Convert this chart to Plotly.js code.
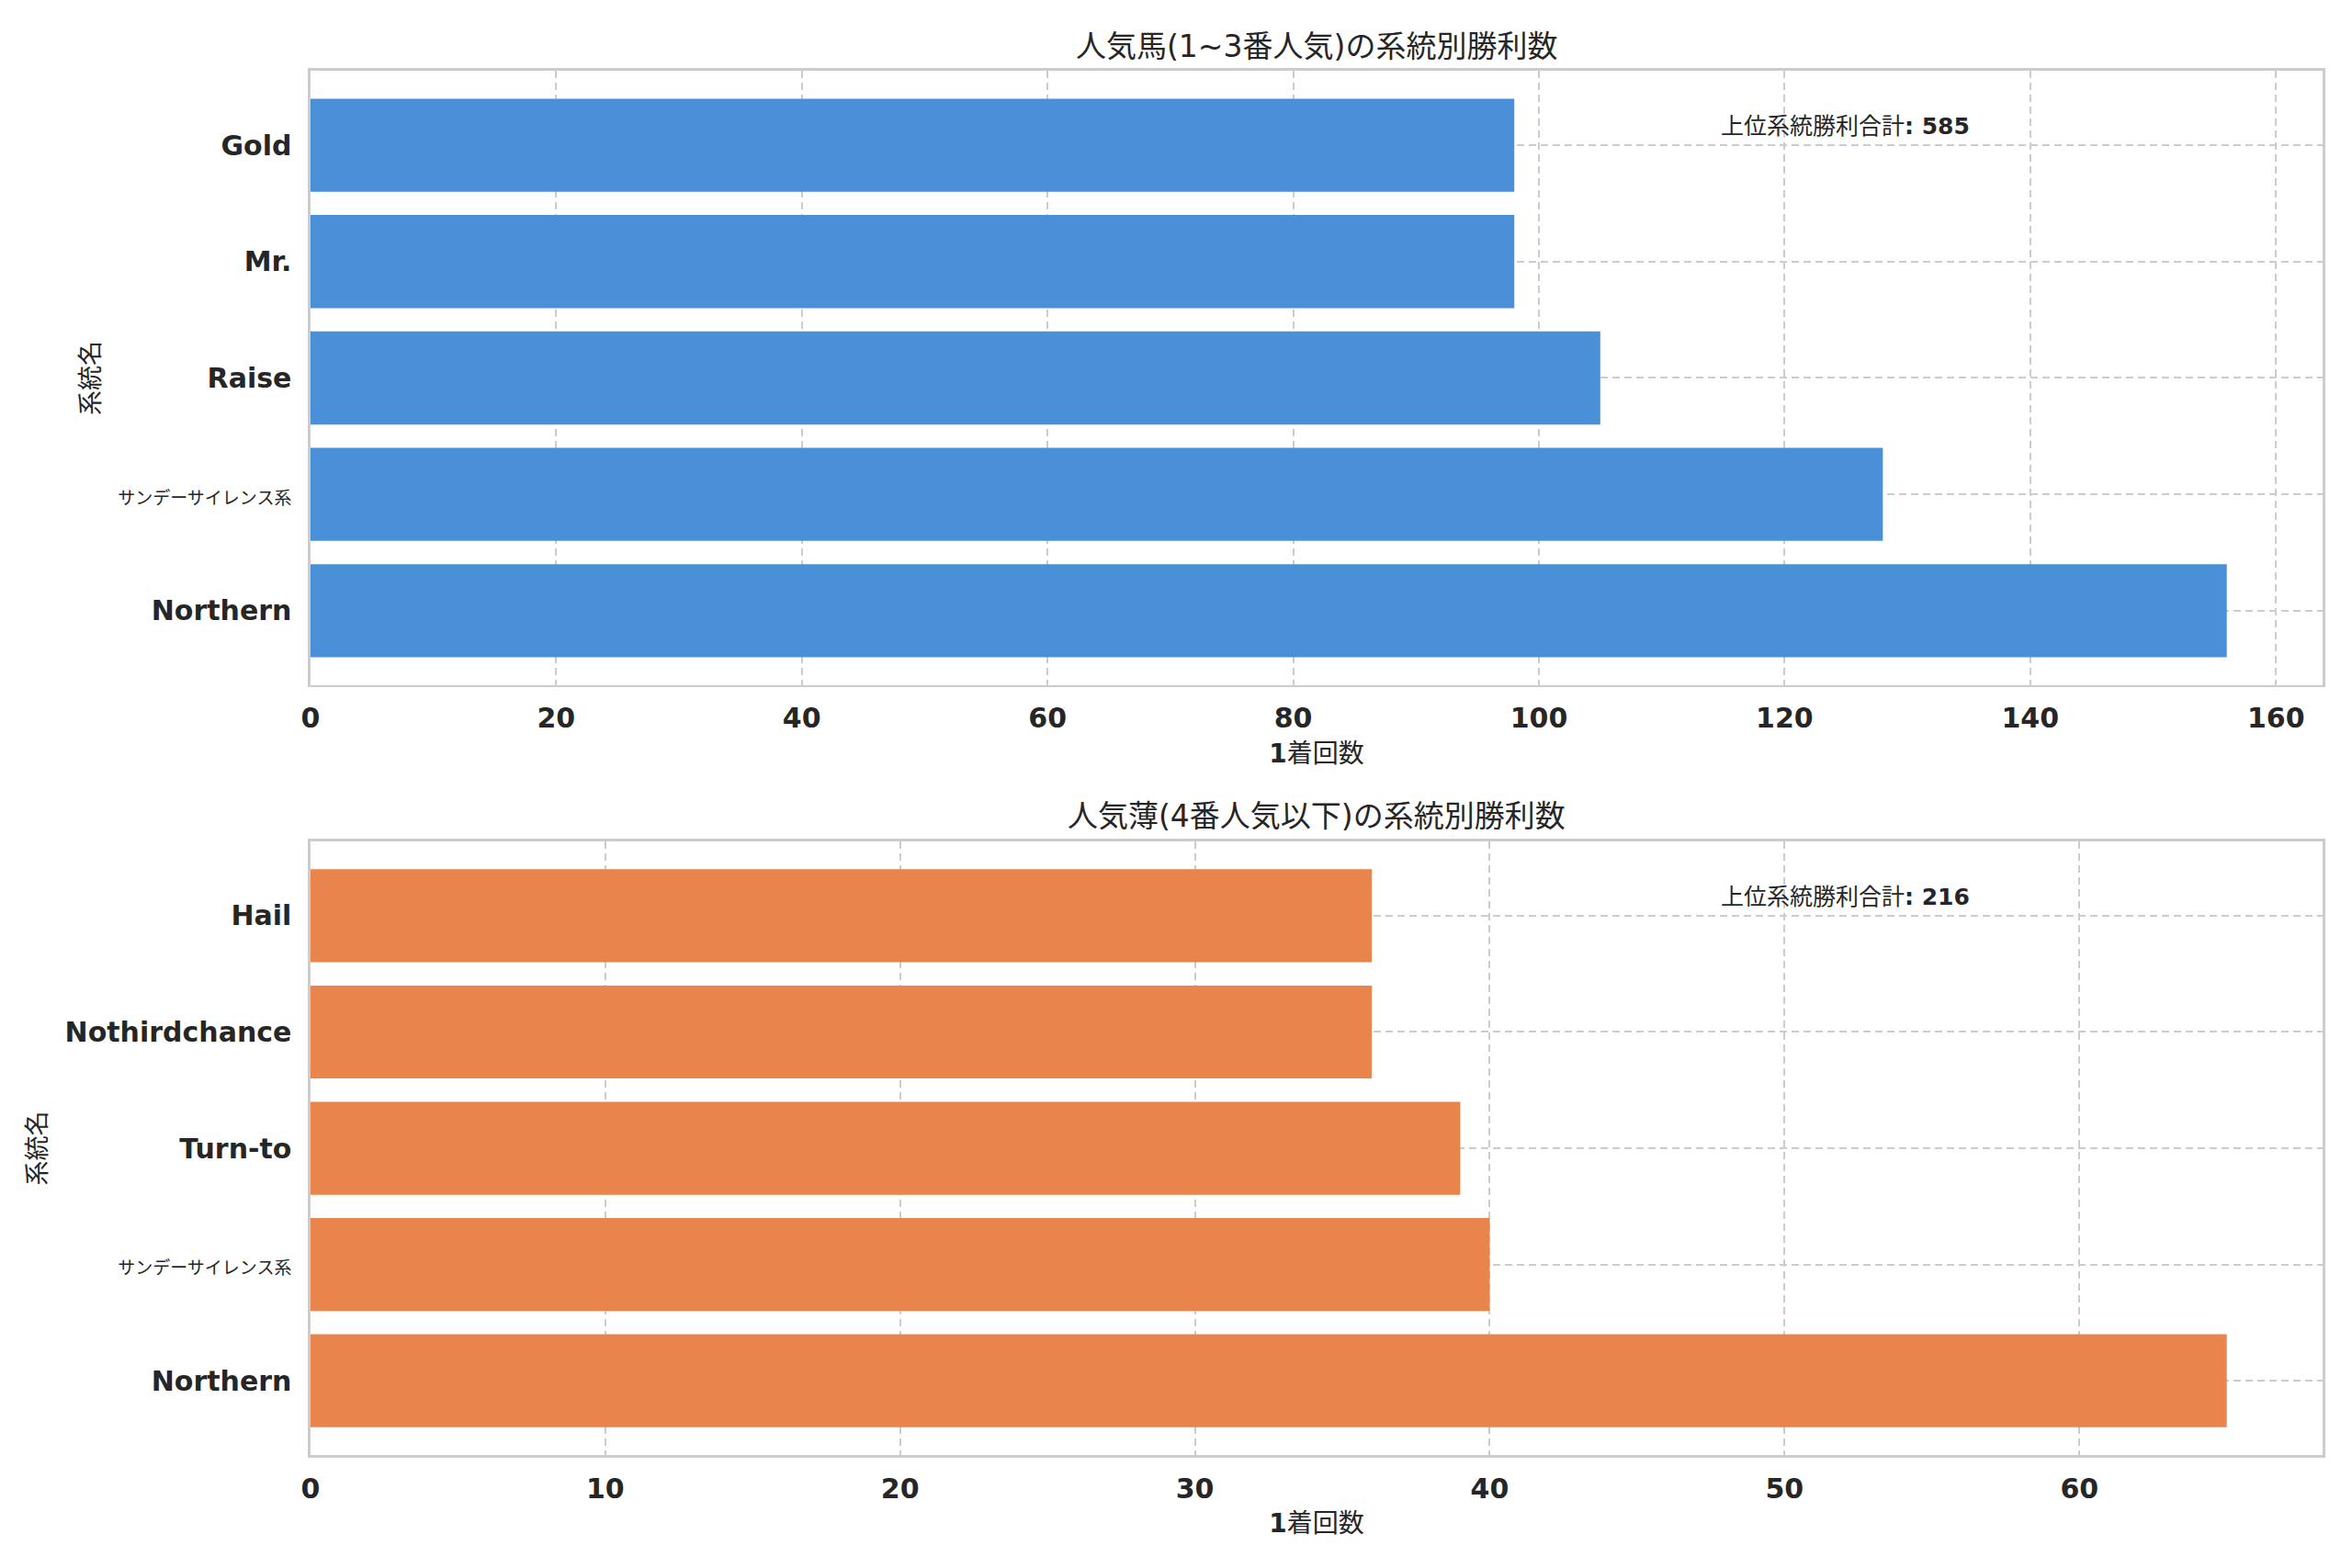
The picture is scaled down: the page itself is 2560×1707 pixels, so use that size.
<!DOCTYPE html>
<html>
<head>
<meta charset="utf-8">
<script src="https://cdn.plot.ly/plotly-3.0.1.min.js"></script>
<style>html,body{margin:0;padding:0;background:#fff;}</style>
</head>
<body>
<div id="chart" style="width:2560px;height:1707px;"></div>
<script>
// ---- data ----
const topTitle = "人気馬(1~3番人気)の系統別勝利数";
const bottomTitle = "人気薄(4番人気以下)の系統別勝利数";
const xTitleLatin = "1";
const xTitleCJK = "着回数";
const yTitle = "系統名";
const totalLabel = "上位系統勝利合計";

const topCategories = ["Northern", "サンデーサイレンス系", "Raise", "Mr.", "Gold"];
const topValues = [156, 128, 105, 98, 98];

const bottomCategories = ["Northern", "サンデーサイレンス系", "Turn-to", "Nothirdchance", "Hail"];
const bottomValues = [65, 40, 39, 36, 36];

// ---- styling helpers ----
const TEXT = "#262626";
const FONT = "DejaVu Sans, Noto Sans CJK JP, sans-serif";
const hasCJK = s => /[\u3000-\u9fff\u30a0-\u30ff]/.test(s);
const tickText = cats => cats.map(c => hasCJK(c)
  ? '<span style="font-weight:normal;font-size:19px">' + c + '</span>' : c);

const xDom = [0.1320, 0.9875];
const topDom = [0.5630, 0.9549];
const botDom = [0.0720, 0.4634];

function xAxis(maxVal, dtick, anchor) {
  return {
    domain: xDom, anchor: anchor, range: [0, maxVal * 1.05],
    tick0: 0, dtick: dtick, automargin: false,
    showgrid: true, gridcolor: "#cccccc", gridwidth: 2, griddash: "8px,5px",
    zeroline: false, showline: true, mirror: true, linecolor: "#cccccc", linewidth: 2.5,
    ticks: "outside", ticklen: 0, ticklabelstandoff: 8,
    tickfont: {family: FONT, size: 30, color: TEXT, weight: "bold"},
    title: {text: xTitleLatin + '<span style="font-weight:normal">' + xTitleCJK + '</span>',
            standoff: 12, font: {family: FONT, size: 28, color: TEXT, weight: "bold"}}
  };
}
function yAxis(cats, dom, anchor) {
  return {
    domain: dom, anchor: anchor, type: "category", range: [-0.64, cats.length - 1 + 0.64],
    tickmode: "array", tickvals: cats, ticktext: tickText(cats), automargin: false,
    showgrid: true, gridcolor: "#cccccc", gridwidth: 2, griddash: "8px,5px",
    zeroline: false, showline: true, mirror: true, linecolor: "#cccccc", linewidth: 2.5,
    ticks: "outside", ticklen: 0, ticklabelstandoff: 12,
    tickfont: {family: FONT, size: 30, color: TEXT, weight: "bold"},
    title: {text: yTitle, standoff: 12, font: {family: FONT, size: 27, color: TEXT}}
  };
}

const sum = a => a.reduce((s, v) => s + v, 0);

const traces = [
  {type: "bar", orientation: "h", x: topValues, y: topCategories, xaxis: "x", yaxis: "y",
   marker: {color: "#4a90d9"}, hoverinfo: "x+y"},
  {type: "bar", orientation: "h", x: bottomValues, y: bottomCategories, xaxis: "x2", yaxis: "y2",
   marker: {color: "#e8844c"}, hoverinfo: "x+y"}
];

const xMid = (xDom[0] + xDom[1]) / 2;
const layout = {
  width: 2560, height: 1707,
  margin: {l: 0, r: 0, t: 0, b: 0},
  paper_bgcolor: "#ffffff", plot_bgcolor: "#ffffff",
  showlegend: false, bargap: 0.2,
  xaxis: xAxis(Math.max(...topValues), 20, "y"),
  yaxis: yAxis(topCategories, topDom, "x"),
  xaxis2: xAxis(Math.max(...bottomValues), 10, "y2"),
  yaxis2: yAxis(bottomCategories, botDom, "x2"),
  annotations: [
    {text: topTitle, xref: "paper", yref: "paper", x: xMid, y: 1 - 50 / 1707,
     xanchor: "center", yanchor: "middle", showarrow: false,
     font: {family: FONT, size: 33, color: TEXT}},
    {text: bottomTitle, xref: "paper", yref: "paper", x: xMid, y: 1 - 888 / 1707,
     xanchor: "center", yanchor: "middle", showarrow: false,
     font: {family: FONT, size: 33, color: TEXT}},
    {text: '<span style="font-weight:normal">' + totalLabel + '</span>: ' + sum(topValues),
     xref: "x domain", yref: "y domain", x: 0.7, y: 0.91, xanchor: "left", yanchor: "middle",
     showarrow: false, font: {family: FONT, size: 25, color: TEXT, weight: "bold"}},
    {text: '<span style="font-weight:normal">' + totalLabel + '</span>: ' + sum(bottomValues),
     xref: "x2 domain", yref: "y2 domain", x: 0.7, y: 0.91, xanchor: "left", yanchor: "middle",
     showarrow: false, font: {family: FONT, size: 25, color: TEXT, weight: "bold"}}
  ]
};

Plotly.newPlot("chart", traces, layout, {displayModeBar: false, staticPlot: true});
</script>
</body>
</html>
